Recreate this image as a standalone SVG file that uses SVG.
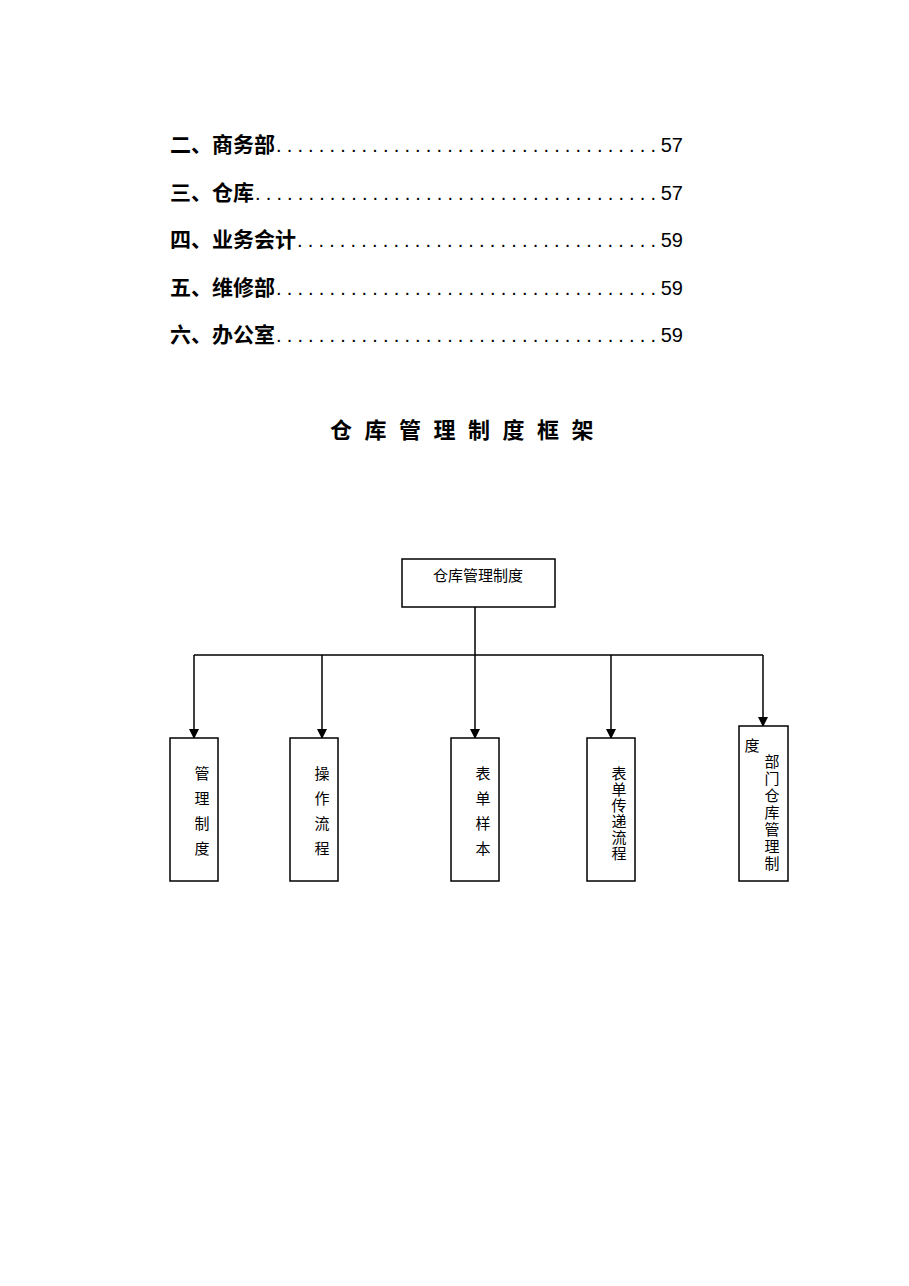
<svg xmlns="http://www.w3.org/2000/svg" width="909" height="1286" viewBox="0 0 909 1286">
<defs>
<style>
.toc{font-family:"Liberation Sans","Noto Sans CJK SC",sans-serif;font-size:21px;font-weight:bold;fill:#000}
.num{font-family:"Liberation Sans",sans-serif;font-size:20px;fill:#000;text-anchor:end}
.dots{font-family:"Liberation Sans",sans-serif;font-size:20px;fill:#000}
.t{font-family:"Noto Sans CJK SC",sans-serif;font-size:15px;fill:#000;text-anchor:middle}
.box{fill:#fff;stroke:#000;stroke-width:1.5}
.ln{stroke:#000;stroke-width:1.5;fill:none}
</style>
<marker id="ah" markerWidth="10" markerHeight="10" refX="9" refY="5" orient="auto" markerUnits="userSpaceOnUse"><path d="M0,0 L10,5 L0,10 z" fill="#000"/></marker>
</defs>
<rect width="909" height="1286" fill="#fff"/>
<g id="toc">
<text class="toc" x="170" y="152">二、商务部</text><text class="dots" x="276" y="152" textLength="380" lengthAdjust="spacing">....................................</text><text class="num" x="683" y="152">57</text>
<text class="toc" x="170" y="200">三、仓库</text><text class="dots" x="255" y="200" textLength="401" lengthAdjust="spacing">......................................</text><text class="num" x="683" y="200">57</text>
<text class="toc" x="170" y="247">四、业务会计</text><text class="dots" x="297" y="247" textLength="359" lengthAdjust="spacing">..................................</text><text class="num" x="683" y="247">59</text>
<text class="toc" x="170" y="295">五、维修部</text><text class="dots" x="276" y="295" textLength="380" lengthAdjust="spacing">....................................</text><text class="num" x="683" y="295">59</text>
<text class="toc" x="170" y="342">六、办公室</text><text class="dots" x="276" y="342" textLength="380" lengthAdjust="spacing">....................................</text><text class="num" x="683" y="342">59</text>
</g>
<text id="title" x="468" y="438" text-anchor="middle" font-family="Noto Sans CJK SC,sans-serif" font-size="22" font-weight="bold" letter-spacing="12.5">仓库管理制度框架</text>
<g id="connectors">
<path class="ln" d="M475,607 V655 M194,655 H763"/>
<path class="ln" d="M194,655 V738" marker-end="url(#ah)"/>
<path class="ln" d="M322,655 V738" marker-end="url(#ah)"/>
<path class="ln" d="M475,655 V738" marker-end="url(#ah)"/>
<path class="ln" d="M611,655 V738" marker-end="url(#ah)"/>
<path class="ln" d="M763,655 V726" marker-end="url(#ah)"/>
</g>
<g id="root"><rect class="box" x="402" y="559" width="153" height="48"/><text class="t" x="478" y="581">仓库管理制度</text></g>
<g id="n1"><rect class="box" x="170" y="738" width="48" height="143"/><text class="t" x="202" y="779">管</text><text class="t" x="202" y="804">理</text><text class="t" x="202" y="829">制</text><text class="t" x="202" y="854">度</text></g>
<g id="n2"><rect class="box" x="290" y="738" width="48" height="143"/><text class="t" x="322" y="779">操</text><text class="t" x="322" y="804">作</text><text class="t" x="322" y="829">流</text><text class="t" x="322" y="854">程</text></g>
<g id="n3"><rect class="box" x="451" y="738" width="48" height="143"/><text class="t" x="483" y="779">表</text><text class="t" x="483" y="804">单</text><text class="t" x="483" y="829">样</text><text class="t" x="483" y="854">本</text></g>
<g id="n4"><rect class="box" x="587" y="738" width="48" height="143"/><text class="t" x="619" y="779">表</text><text class="t" x="619" y="795">单</text><text class="t" x="619" y="811">传</text><text class="t" x="619" y="827">递</text><text class="t" x="619" y="843">流</text><text class="t" x="619" y="859">程</text></g>
<g id="n5"><rect class="box" x="739" y="726" width="49" height="155"/><text class="t" x="752" y="751">度</text><text class="t" x="772" y="767">部</text><text class="t" x="772" y="784">门</text><text class="t" x="772" y="801">仓</text><text class="t" x="772" y="818">库</text><text class="t" x="772" y="835">管</text><text class="t" x="772" y="852">理</text><text class="t" x="772" y="869">制</text></g>
</svg>
